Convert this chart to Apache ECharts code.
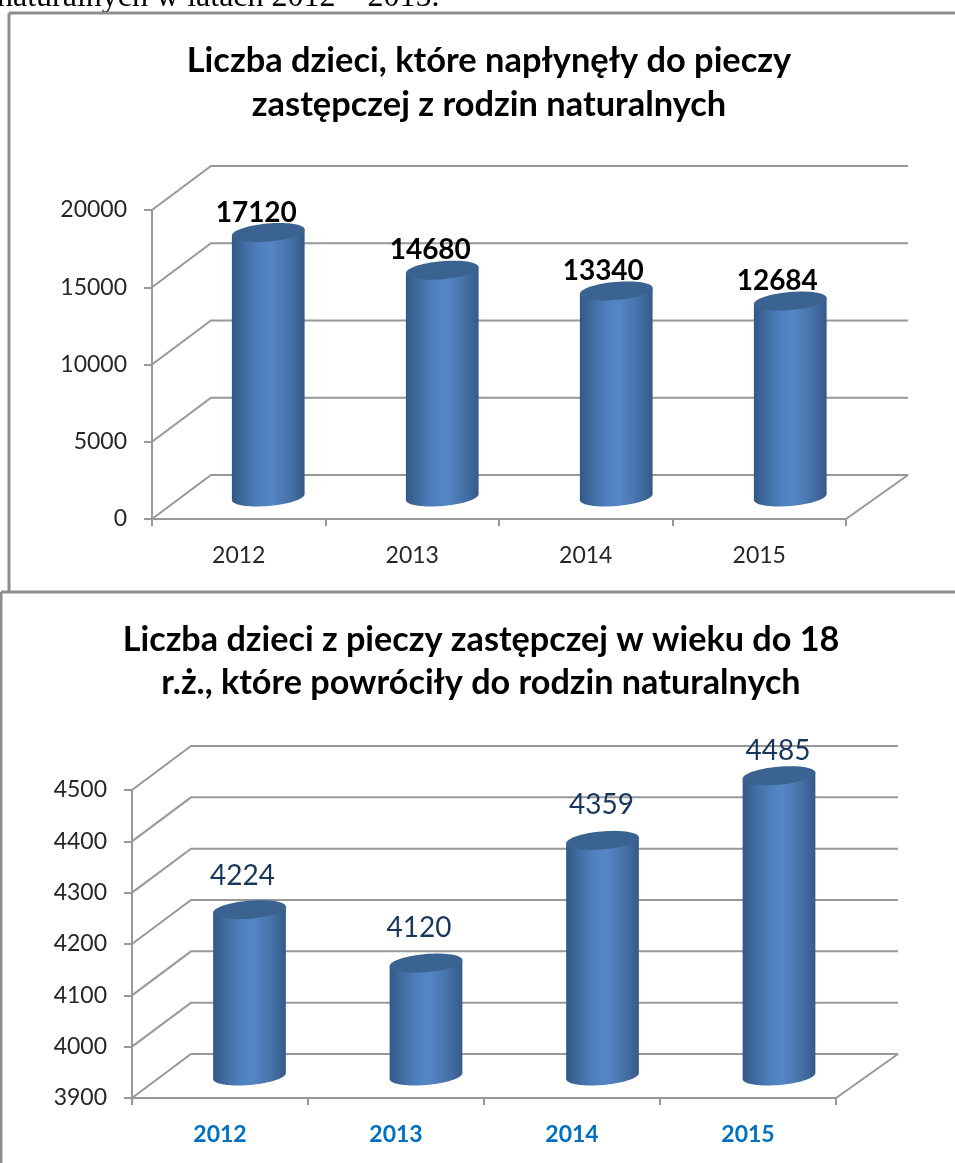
<!DOCTYPE html>
<html><head><meta charset="utf-8">
<style>html,body{margin:0;padding:0;background:#fff}#c{width:955px;height:1163px}</style>
<script src="https://cdn.jsdelivr.net/npm/echarts@6/dist/echarts.min.js"></script>
</head><body><div id="c"></div>
<script>
const categories = ['2012','2013','2014','2015'];
const values1 = [17120,14680,13340,12684];
const values2 = [4224,4120,4359,4485];
const ticks1 = [0,5000,10000,15000,20000];
const ticks2 = [3900,4000,4100,4200,4300,4400,4500];
const title1 = 'Liczba dzieci, które napłynęły do pieczy\nzastępczej z rodzin naturalnych';
const title2 = 'Liczba dzieci z pieczy zastępczej w wieku do 18\nr.ż., które powróciły do rodzin naturalnych';
const topText = 'naturalnych w latach 2012 – 2015.';
const labelShift1 = [[-12,-20],[-12,-20],[-13,-20],[-13,-20]];
const labelShift2 = [[-7,-34],[-7,-35],[-1,-35],[-1,-25]];

const FONT = 'Lato';
const GRAY = '#989898';
const DEPTH = [59,-44];
const WALL_EXTRA = 3;
const A = 36.5, B = 9, TILT = -5*Math.PI/180;

function wall(params, api){
  const cs = params.coordSys;
  const y = api.coord([0, api.value(1)])[1];
  const x0 = cs.x, x1 = cs.x + cs.width;
  const xb = x1 + DEPTH[0] + WALL_EXTRA;
  const st = {stroke:GRAY, lineWidth:2, fill:null};
  const children = [{type:'polyline', shape:{points:[[x0,y],[x0+DEPTH[0],y+DEPTH[1]],[xb,y+DEPTH[1]]]}, style:st}];
  if(params.dataIndex === 0){
    children.push({type:'polyline', shape:{points:[[x1,y],[xb,y+DEPTH[1]]]}, style:st});
  }
  return {type:'group', children};
}
function ell(cx,cy,t){
  const ex = A*Math.cos(t), ey = B*Math.sin(t);
  return [cx + ex*Math.cos(TILT) - ey*Math.sin(TILT), cy + ex*Math.sin(TILT) + ey*Math.cos(TILT)];
}
function cylinder(shifts, font, color){
  return function(params, api){
    const i = api.value(0), v = api.value(1);
    const top = api.coord([i,v]), base = api.coord([i, api.value(2)]);
    const cx = top[0] + DEPTH[0]/2 + i*0.5, cyT = top[1] + DEPTH[1]/2, cyB = base[1] + DEPTH[1]/2;
    const body = [];
    for(let k=0;k<=40;k++) body.push(ell(cx,cyB,Math.PI*k/40));
    body.push(ell(cx,cyT,Math.PI));
    body.push(ell(cx,cyT,0));
    const cap = [];
    for(let k=0;k<72;k++) cap.push(ell(cx,cyT,2*Math.PI*k/72));
    const grad = new echarts.graphic.LinearGradient(0,0,1,0,[
      {offset:0,color:'#335887'},{offset:0.15,color:'#3f6a9f'},{offset:0.38,color:'#4f80be'},
      {offset:0.55,color:'#5485c6'},{offset:0.8,color:'#4672a8'},{offset:1,color:'#36598a'}]);
    return {type:'group', children:[
      {type:'polygon', shape:{points:body}, style:{fill:grad}},
      {type:'polygon', shape:{points:cap}, style:{fill:'#3b6391'}},
      {type:'text', style:{text:String(v), x:cx+shifts[i][0], y:cyT+shifts[i][1], align:'center', verticalAlign:'middle', font, fill:color}}
    ]};
  };
}
function barData(vals, base){ return vals.map((v,i)=>[i,v,base]); }
function vLine(x1,y1,x2,y2){
  return {type:'line', shape:{x1,y1,x2,y2}, style:{stroke:'#8e8e8e', lineWidth:3}, z:1};
}
function yAxis(gridIndex, min, max, interval){
  return {type:'value', gridIndex, min, max, interval,
    axisLine:{show:true, lineStyle:{color:GRAY,width:2}},
    axisTick:{show:true, length:8, lineStyle:{color:GRAY,width:2}},
    splitLine:{show:false},
    axisLabel:{color:'#262626', fontFamily:FONT, fontSize:23, margin:25, padding:[4,0,0,0], formatter:v=>String(v)}};
}
function xAxis(gridIndex, labelStyle){
  return {type:'category', gridIndex, data:categories, boundaryGap:true,
    axisLine:{show:true, lineStyle:{color:GRAY,width:2}},
    axisTick:{show:true, length:7, alignWithLabel:false, lineStyle:{color:GRAY,width:2}},
    splitLine:{show:false},
    axisLabel:Object.assign({fontFamily:FONT, interval:0}, labelStyle)};
}
const chart = echarts.init(document.getElementById('c'), null, {renderer:'canvas'});
chart.setOption({
  animation:false, backgroundColor:'#fff',
  title:[
    {text:title1, left:484, top:34, textAlign:'center', textStyle:{fontFamily:FONT, fontWeight:'bold', fontSize:34.4, lineHeight:44, color:'#000'}},
    {text:title2, left:476, top:613, textAlign:'center', textStyle:{fontFamily:FONT, fontWeight:'bold', fontSize:34.2, lineHeight:43, color:'#000'}}
  ],
  graphic:[
    {type:'text', left:-3, top:-18, style:{text:topText, font:'32px "Liberation Serif"', fill:'#000'}, z:0},
    vLine(9,13,955,13), vLine(9,13,9,591), vLine(1,592,955,592), vLine(1,592,1,1163)
  ],
  grid:[
    {left:152, top:210, width:694, height:309},
    {left:132, top:790, width:704, height:308}
  ],
  xAxis:[
    xAxis(0,{color:'#262626', fontSize:23, margin:25}),
    xAxis(1,{color:'#0070c0', fontSize:23, fontWeight:'bold', margin:25})
  ],
  yAxis:[ yAxis(0,0,20000,5000), yAxis(1,3900,4500,100) ],
  series:[
    {type:'custom', xAxisIndex:0, yAxisIndex:0, z:1, silent:true, encode:{x:0,y:1}, data:ticks1.map(t=>[0,t]), renderItem:wall},
    {type:'custom', xAxisIndex:1, yAxisIndex:1, z:1, silent:true, encode:{x:0,y:1}, data:ticks2.map(t=>[0,t]), renderItem:wall},
    {type:'custom', xAxisIndex:0, yAxisIndex:0, z:3, silent:true, encode:{x:0,y:1}, data:barData(values1,0), renderItem:cylinder(labelShift1,'bold 28px '+FONT,'#000')},
    {type:'custom', xAxisIndex:1, yAxisIndex:1, z:3, silent:true, encode:{x:0,y:1}, data:barData(values2,3900), renderItem:cylinder(labelShift2,'28px '+FONT,'#17375e')}
  ]
});
</script></body></html>
